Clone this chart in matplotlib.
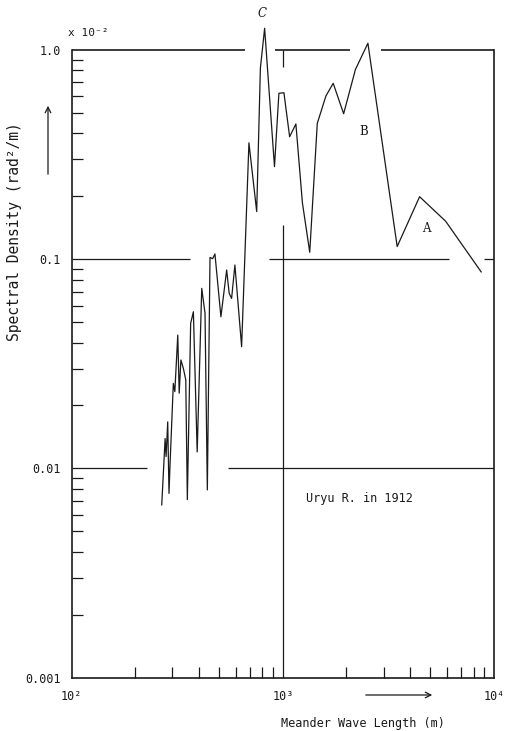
import numpy as np
import matplotlib
matplotlib.use("Agg")
from matplotlib import pyplot as plt
from matplotlib.ticker import LogLocator, NullFormatter

plt.rcParams['font.family'] = ['DejaVu Sans Mono']

# meander wave length (m) and spectral density (x 10^-2 rad^2/m)
wave_length = [267, 277, 280, 285, 289, 292, 303, 308, 318, 323,
               329, 338, 347, 353, 366, 377, 393, 413, 428, 439,
               452, 465, 477, 509, 542, 557, 572, 593, 638, 691,
               752, 783, 820, 913, 958, 1012, 1077, 1153, 1238, 1341,
               1456, 1600, 1732, 1941, 2207, 2529, 3480, 4443, 5901, 8697]
density = [0.0067, 0.0139, 0.0114, 0.0167, 0.0076, 0.0102, 0.0255, 0.0233, 0.0434, 0.0229,
           0.033, 0.0301, 0.0265, 0.0071, 0.0494, 0.0561, 0.0120, 0.0726, 0.0553, 0.0079,
           0.102, 0.1006, 0.106, 0.0531, 0.0888, 0.0687, 0.065, 0.0938, 0.0382, 0.36,
           0.169, 0.82, 1.27, 0.277, 0.621, 0.625, 0.385, 0.443, 0.186, 0.108,
           0.446, 0.603, 0.693, 0.496, 0.807, 1.077, 0.115, 0.199, 0.152, 0.087]

y_ticks = [0.001, 0.01, 0.1, 1.0]
y_labels = ["0.001", "0.01", "0.1", "1.0"]
x_ticks = [1e2, 1e3, 1e4]
x_labels = ["10²", "10³", "10⁴"]

peak_labels = ["C", "B", "A"]
peak_x = [799, 2403, 4797]
peak_y = [1.5, 0.407, 0.1405]

ink = '#1a1a1a'

fig = plt.figure(figsize=(5.08, 7.31), dpi=100)
ax = fig.add_axes([0.1411, 0.0729, 0.8313, 0.8587])
ax.set_xscale('log')
ax.set_yscale('log')
ax.set_xlim(1e2, 1e4)
ax.set_ylim(1e-3, 1.0)

ax.plot(wave_length, density, color=ink, lw=0.9, clip_on=False, zorder=3)

# broken grid lines, as in the original drawing
ax.hlines([1.0] * 3, [1e2, 918, 2914], [661, 2078, 1e4], color=ink, lw=1.2, clip_on=False)
ax.hlines([0.1] * 3, [1e2, 859, 8950], [363, 6108, 1e4], color=ink, lw=0.9)
ax.hlines([0.01] * 2, [1e2, 551], [227, 1e4], color=ink, lw=0.9)
ax.vlines(1e3, 1e-3, 0.146, color=ink, lw=0.9)
ax.vlines(1e3, 0.83, 1.0, color=ink, lw=0.9)

ax.spines['top'].set_visible(False)
for s in ['left', 'bottom', 'right']:
    ax.spines[s].set_color(ink)
    ax.spines[s].set_linewidth(1.2)

ax.set_yticks(y_ticks, y_labels)
ax.set_xticks(x_ticks, x_labels)
ax.yaxis.set_minor_locator(LogLocator(base=10, subs=np.arange(2, 10)))
ax.xaxis.set_minor_locator(LogLocator(base=10, subs=np.arange(2, 10)))
ax.yaxis.set_minor_formatter(NullFormatter())
ax.xaxis.set_minor_formatter(NullFormatter())
ax.tick_params(which='major', length=0, labelsize=8.5, colors=ink)
ax.tick_params(axis='y', which='major', pad=8)
ax.tick_params(axis='x', which='major', pad=9)
ax.tick_params(which='minor', direction='in', length=8, width=0.9, colors=ink)
ax.tick_params(axis='y', which='minor', right=False)

for lab, px, py in zip(peak_labels, peak_x, peak_y):
    ax.text(px, py, lab, ha='center', va='center', fontsize=8.5, color=ink,
            family='DejaVu Serif', style='italic' if lab == 'C' else 'normal', clip_on=False)

ax.text(2305, 0.0072, "Uryu R. in 1912", ha='center', va='center', fontsize=8.5, color=ink)

fig.text(68 / 508, 1 - 33 / 731, "x 10⁻²", ha='left', va='center', fontsize=8, color=ink)
fig.text(15 / 508, 1 - 232 / 731, "Spectral Density (rad²/m)", rotation=90,
         ha='center', va='center', fontsize=10.5, color=ink)
fig.text(363 / 508, 1 - 724 / 731, "Meander Wave Length (m)", ha='center', va='center',
         fontsize=8.5, color=ink)

# direction arrows next to the axis titles
ax.annotate("", xy=(48 / 508, 1 - 103 / 731), xytext=(48 / 508, 1 - 177 / 731),
            xycoords='figure fraction', textcoords='figure fraction',
            arrowprops=dict(arrowstyle='->', lw=0.9, color=ink))
ax.annotate("", xy=(435 / 508, 1 - 695 / 731), xytext=(363 / 508, 1 - 695 / 731),
            xycoords='figure fraction', textcoords='figure fraction',
            arrowprops=dict(arrowstyle='->', lw=0.9, color=ink))

fig.savefig("out.png", dpi=100, facecolor='white')
